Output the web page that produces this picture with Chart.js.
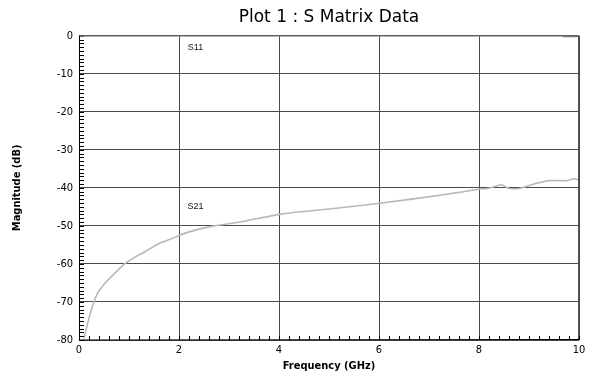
<!DOCTYPE html>
<html>
<head>
<meta charset="utf-8">
<script src="https://cdn.jsdelivr.net/npm/chart.js@4/dist/chart.umd.min.js"></script>
<style>
  html, body { margin: 0; padding: 0; background: #fff; }
  #wrap { width: 597px; height: 379px; }
</style>
</head>
<body>
<div id="wrap"><canvas id="c" width="597" height="379"></canvas></div>
<script>
// Frequency sweep (GHz) and transmission magnitude (dB)
const s21Freq = [0.1, 0.19, 0.29, 0.39, 0.55, 0.72, 0.91, 1.12, 1.32, 1.59, 1.85, 2.12, 2.62, 3.25, 4.04, 5.05, 6.05, 7.02, 7.6, 8.02, 8.2, 8.45, 8.59, 8.82, 9.15, 9.42, 9.75, 9.89, 10.0];
const s21Db   = [-79.6, -74.7, -70.3, -67.3, -64.6, -62.4, -60.0, -58.2, -56.8, -54.7, -53.4, -51.9, -50.2, -48.9, -46.9, -45.5, -44.0, -42.3, -41.2, -40.3, -40.1, -39.2, -40.1, -40.1, -38.8, -38.1, -38.1, -37.6, -37.9];

// Reflection magnitude (dB), visible only at the top edge
const s11Freq = [9.68, 10.0];
const s11Db   = [-0.2, -0.2];

// Trace labels: [text, frequency, dB]
const traceLabels = [["S11", 2.33, -3.2], ["S21", 2.33, -45.0]];

const xTickValues = [0, 2, 4, 6, 8, 10];
const yTickValues = [0, -10, -20, -30, -40, -50, -60, -70, -80];

const toPoints = (xs, ys) => xs.map((x, i) => ({ x: x, y: ys[i] }));
const isMajor = (v, step) => Math.abs(v / step - Math.round(v / step)) < 1e-6;

// Minor tick marks inside the plot frame, plus trace labels
const decorations = {
  id: 'decorations',
  afterDatasetsDraw(chart) {
    const { ctx, chartArea: a, scales: { x, y } } = chart;
    ctx.save();
    ctx.strokeStyle = '#000';
    ctx.lineWidth = 1;
    ctx.beginPath();
    x.ticks.forEach(t => {
      const px = Math.round(x.getPixelForValue(t.value)) + 0.5;
      ctx.moveTo(px, a.bottom);
      ctx.lineTo(px, a.bottom - 4);
    });
    y.ticks.forEach(t => {
      const py = Math.round(y.getPixelForValue(t.value)) + 0.5;
      ctx.moveTo(a.left, py);
      ctx.lineTo(a.left + 5, py);
    });
    ctx.stroke();
    // frame
    ctx.strokeStyle = '#8c8c8c';
    ctx.beginPath();
    ctx.moveTo(a.left, a.top + 0.5);
    ctx.lineTo(a.right, a.top + 0.5);
    ctx.stroke();
    ctx.strokeStyle = '#555';
    ctx.beginPath();
    ctx.moveTo(a.right - 0.5, a.top);
    ctx.lineTo(a.right - 0.5, a.bottom);
    ctx.stroke();
    ctx.strokeStyle = '#000';
    ctx.beginPath();
    ctx.moveTo(a.left + 0.5, a.top);
    ctx.lineTo(a.left + 0.5, a.bottom);
    ctx.lineTo(a.right, a.bottom - 0.5);
    ctx.stroke();
    // trace labels
    ctx.fillStyle = '#111';
    ctx.font = '9px "Liberation Sans", Arial, sans-serif';
    ctx.textAlign = 'center';
    ctx.textBaseline = 'middle';
    traceLabels.forEach(([txt, fx, fy]) => {
      ctx.fillText(txt, x.getPixelForValue(fx), y.getPixelForValue(fy));
    });
    ctx.restore();
  }
};

const tickFont = { family: '"Liberation Sans Narrow", "DejaVu Sans Condensed", sans-serif', size: 11 };
const titleFont = { family: '"DejaVu Sans Condensed", "Liberation Sans Narrow", sans-serif', size: 11, weight: 'bold' };

new Chart(document.getElementById('c'), {
  type: 'line',
  data: {
    datasets: [
      {
        label: 'S21',
        data: toPoints(s21Freq, s21Db),
        borderColor: '#b8b8b8',
        borderWidth: 1.6,
        pointRadius: 0,
        tension: 0.2,
        fill: false
      },
      {
        label: 'S11',
        data: toPoints(s11Freq, s11Db),
        borderColor: '#666',
        borderWidth: 1.6,
        pointRadius: 0,
        fill: false
      }
    ]
  },
  options: {
    responsive: false,
    animation: false,
    devicePixelRatio: 1,
    layout: { padding: { left: 11, right: 18, top: 0, bottom: 0 } },
    plugins: {
      legend: { display: false },
      tooltip: { enabled: false },
      title: {
        display: true,
        fullSize: false,
        text: 'Plot 1 : S Matrix Data',
        color: '#000',
        font: { family: '"DejaVu Sans", sans-serif', size: 17, weight: 'normal', lineHeight: 1.1 },
        padding: { top: 8, bottom: 9 }
      }
    },
    scales: {
      x: {
        type: 'linear',
        min: 0,
        max: 10,
        afterBuildTicks(scale) {
          const t = [];
          for (let i = 0; i <= 50; i++) t.push({ value: +(i * 0.2).toFixed(1) });
          scale.ticks = t;
        },
        afterFit(scale) { scale.height = 39; },
        ticks: {
          autoSkip: false,
          maxRotation: 0,
          color: '#000',
          font: tickFont,
          padding: 4,
          callback: v => xTickValues.includes(Math.round(v * 10) / 10) && isMajor(v, 2) ? String(Math.round(v)) : ''
        },
        grid: {
          drawTicks: false,
          color: ctx => isMajor(ctx.tick.value, 2) ? '#4a4a4a' : 'rgba(0,0,0,0)',
          lineWidth: 1
        },
        border: { display: false },
        title: {
          display: true,
          text: 'Frequency (GHz)',
          color: '#000',
          font: titleFont,
          padding: { top: 2, bottom: 6 }
        }
      },
      y: {
        type: 'linear',
        min: -80,
        max: 0,
        afterBuildTicks(scale) {
          const t = [];
          for (let v = 0; v >= -80; v--) t.push({ value: v });
          scale.ticks = t;
        },
        afterFit(scale) { scale.width = 68; },
        ticks: {
          autoSkip: false,
          color: '#000',
          font: tickFont,
          padding: 6,
          callback: v => yTickValues.includes(v) ? String(v) : ''
        },
        grid: {
          drawTicks: false,
          color: ctx => isMajor(ctx.tick.value, 10) ? '#4a4a4a' : 'rgba(0,0,0,0)',
          lineWidth: 1
        },
        border: { display: false },
        title: {
          display: true,
          text: 'Magnitude (dB)',
          color: '#000',
          font: titleFont,
          padding: { top: 0, bottom: 0 }
        }
      }
    }
  },
  plugins: [decorations]
});
</script>
</body>
</html>
